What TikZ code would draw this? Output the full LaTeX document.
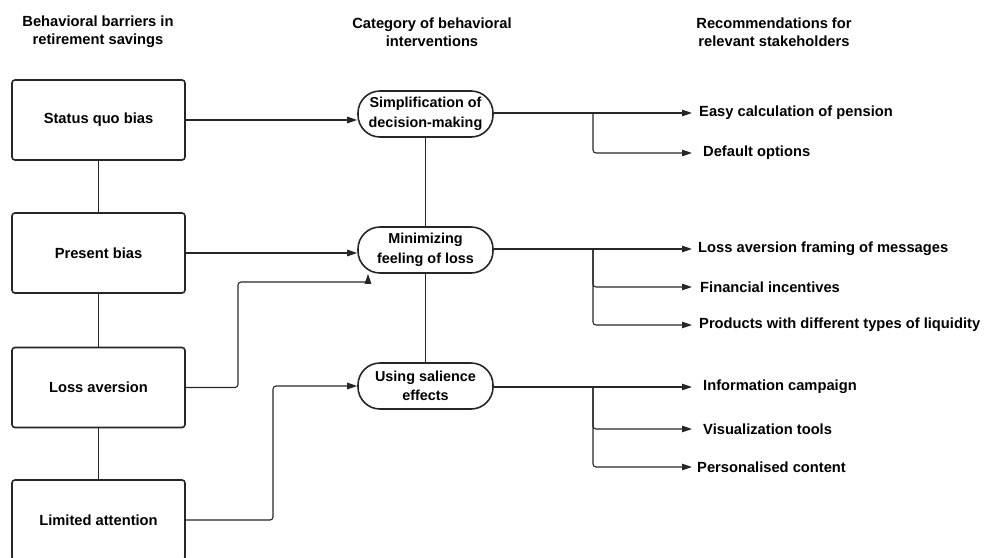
\documentclass[tikz,border=0pt]{standalone}
\usepackage{fontspec}
\setmainfont{Liberation Sans}
\usetikzlibrary{arrows.meta, positioning, calc}
\newcommand{\figfont}{\fontsize{14.7}{18}\selectfont\bfseries}
\tikzstyle{header} = [align=center, font=\figfont]
\tikzstyle{barrier} = [
    rectangle, rounded corners=3pt, minimum width=173pt, minimum height=80pt,
    text centered, draw=black!85, font=\figfont, line width=1.6pt
]
\tikzstyle{category} = [
    rectangle, rounded corners=22pt, minimum width=135pt, minimum height=46pt,
    inner sep=2pt, align=center, draw=black!85, line width=1.6pt,
    font=\fontsize{14.4}{19.5}\selectfont\bfseries
]
\tikzstyle{rec} = [anchor=west, inner sep=0pt, font=\figfont]
\tikzstyle{arrow} = [-{Triangle[length=10pt, width=6.5pt]}, line width=1.1pt, color=black!85]
\tikzstyle{link} = [line width=1.1pt, color=black!85]

\begin{document}
\begin{tikzpicture}[x=1pt, y=-1pt]
    \path[use as bounding box, clip] (0,0) rectangle (984,557);

    % Headers
    \node[header] (h1) at (98,32) {Behavioral barriers in\\retirement savings};
    \node[header] (h2) at (432,32) {Category of behavioral\\interventions};
    \node[header] (h3) at (774,32) {Recommendations for\\relevant stakeholders};

    % Barriers
    \node[barrier] (bar1) at (98.5,120) {Status quo bias};
    \node[barrier] (bar2) at (98.5,253) {Present bias};
    \node[barrier] (bar3) at (98.5,387.5) {Loss aversion};
    \node[barrier] (bar4) at (98.5,520) {Limited attention};

    % Categories
    \node[category] (cat1) at (425.5,114) {Simplification of\\decision-making};
    \node[category] (cat2) at (425.5,250) {Minimizing\\feeling of loss};
    \node[category] (cat3) at (425.5,386) {Using salience\\effects};

    % Recommendations
    \node[rec] (r1) at (699,113) {Easy calculation of pension};
    \node[rec] (r2) at (703,153) {Default options};
    \node[rec] (r3) at (698,249) {Loss aversion framing of messages};
    \node[rec] (r4) at (700,287) {Financial incentives};
    \node[rec] (r5) at (699,325) {Products with different types of liquidity};
    \node[rec] (r6) at (703,387) {Information campaign};
    \node[rec] (r7) at (703,429) {Visualization tools};
    \node[rec] (r8) at (697,467) {Personalised content};

    % Barrier links
    \draw[link] (bar1) -- (bar2);
    \draw[link] (bar2) -- (bar3);
    \draw[link] (bar3) -- (bar4);
    \draw[link] (cat1) -- (cat2);
    \draw[link] (cat2) -- (cat3);

    % Barrier to category arrows
    \draw[arrow] (bar1.east) -- (bar1.east -| cat1.west);
    \draw[arrow] (bar2.east) -- (bar2.east -| cat2.west);
    \draw[arrow, rounded corners=3pt] (bar3.east) -| (238,282) -| ([xshift=-57.5pt]cat2.south);
    \draw[arrow, rounded corners=3pt] (bar4.east) -| (273,386) -- (cat3.west);

    % Category to recommendation arrows
    \draw[arrow] (cat1.east |- r1.west) -- ([xshift=-7pt]r1.west);
    \draw[arrow, rounded corners=3pt] (593,113) |- ([xshift=-11pt]r2.west);
    \draw[arrow] (cat2.east |- r3.west) -- ([xshift=-6pt]r3.west);
    \draw[arrow, rounded corners=3pt] (593,249) |- ([xshift=-8pt]r4.west);
    \draw[arrow, rounded corners=3pt] (593,249) |- ([xshift=-7pt]r5.west);
    \draw[arrow] (cat3.east |- r6.west) -- ([xshift=-11pt]r6.west);
    \draw[arrow, rounded corners=3pt] (593,387) |- ([xshift=-11pt]r7.west);
    \draw[arrow, rounded corners=3pt] (593,387) |- ([xshift=-5pt]r8.west);

\end{tikzpicture}
\end{document}
